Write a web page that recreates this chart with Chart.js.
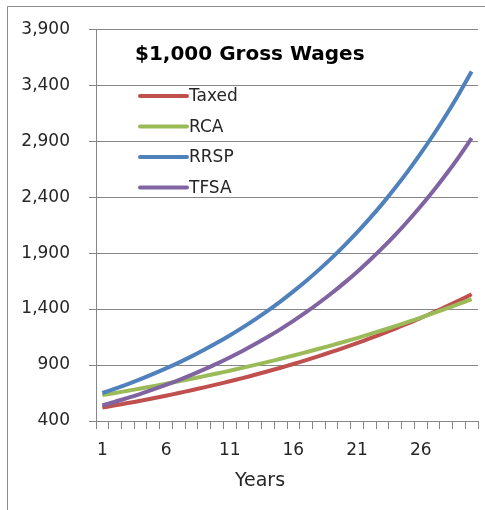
<!DOCTYPE html>
<html>
<head>
<meta charset="utf-8">
<script src="https://cdn.jsdelivr.net/npm/chart.js@4/dist/chart.umd.min.js"></script>
<style>
  body { margin: 0; background: #fff; }
  canvas { display: block; }
</style>
</head>
<body>
<canvas id="chart" width="485" height="510"></canvas>
<script>
const years = [];
for (let i = 1; i <= 30; i++) years.push(String(i));

const taxed = [520, 540, 560, 581, 603, 626, 650, 675, 700, 727, 755, 783, 813, 844, 876,
  909, 944, 980, 1017, 1055, 1095, 1137, 1180, 1225, 1271, 1320, 1370, 1422, 1476, 1532];
const rca = [632, 651, 670, 691, 711, 733, 755, 777, 801, 825, 849, 875, 901, 928, 956,
  985, 1014, 1045, 1076, 1108, 1141, 1176, 1211, 1247, 1285, 1323, 1363, 1404, 1446, 1489];
const rrsp = [650, 689, 730, 774, 821, 870, 922, 977, 1036, 1098, 1164, 1234, 1308, 1386, 1469,
  1558, 1651, 1750, 1855, 1967, 2085, 2210, 2342, 2483, 2632, 2790, 2957, 3134, 3322, 3522];
const tfsa = [540, 572, 607, 643, 682, 723, 766, 812, 861, 912, 967, 1025, 1087, 1152, 1221,
  1294, 1372, 1454, 1541, 1634, 1732, 1836, 1946, 2063, 2187, 2318, 2457, 2604, 2760, 2926];

const seriesNames = ["Taxed", "RCA", "RRSP", "TFSA"];
const seriesColors = ["#C0504D", "#9BBB59", "#4F81BD", "#8064A2"];
const chartTitle = "$1,000 Gross Wages";
const xTitle = "Years";

const FONT = "'DejaVu Sans', sans-serif";
const gridColor = "#868686";
const textColor = "#262626";

const overlay = {
  id: "overlay",
  beforeDraw(chart) {
    const c = chart.ctx;
    c.save();
    c.strokeStyle = "#8c8c8c";
    c.lineWidth = 1;
    c.beginPath();
    c.moveTo(7.5, 510);
    c.lineTo(7.5, 6.5);
    c.lineTo(485, 6.5);
    c.stroke();
    c.restore();
  },
  afterDraw(chart) {
    const c = chart.ctx;
    c.save();
    c.fillStyle = "#000";
    c.textBaseline = "middle";
    c.textAlign = "left";
    c.font = "bold 20px " + FONT;
    c.fillText(chartTitle, 135, 55);

    c.font = "17px " + FONT;
    chart.data.datasets.forEach((ds, i) => {
      const y = 96 + i * 30.5;
      c.strokeStyle = ds.borderColor;
      c.lineWidth = 4;
      c.lineCap = "round";
      c.beginPath();
      c.moveTo(140, y);
      c.lineTo(187, y);
      c.stroke();
      c.fillStyle = textColor;
      c.fillText(ds.label, 189, y + 1);
    });

    c.textAlign = "center";
    c.font = "19px " + FONT;
    c.fillStyle = textColor;
    c.fillText(xTitle, 260, 481);
    c.restore();
  }
};

const allSeries = [taxed, rca, rrsp, tfsa];

new Chart(document.getElementById("chart").getContext("2d"), {
  type: "line",
  data: {
    labels: years,
    datasets: allSeries.map((d, i) => ({
      label: seriesNames[i],
      data: d,
      borderColor: seriesColors[i],
      backgroundColor: seriesColors[i],
      borderWidth: 4,
      pointRadius: 0,
      tension: 0.3,
      order: 3 - i
    }))
  },
  options: {
    responsive: false,
    animation: false,
    layout: { padding: { top: 28, right: 7, bottom: 0, left: 0 } },
    plugins: {
      legend: { display: false },
      title: { display: false },
      tooltip: { enabled: false }
    },
    scales: {
      x: {
        offset: true,
        grid: { offset: true, drawOnChartArea: false, tickLength: 8, color: gridColor },
        border: { color: gridColor },
        ticks: {
          autoSkip: false,
          maxRotation: 0,
          padding: 11,
          color: textColor,
          font: { family: FONT, size: 17 },
          callback: (v, i) => (i % 5 === 0 ? years[i] : "")
        },
        afterFit: s => { s.height = 89; }
      },
      y: {
        min: 400,
        max: 3900,
        grid: { tickLength: 7, color: gridColor },
        border: { color: gridColor },
        ticks: {
          stepSize: 500,
          padding: 19,
          color: textColor,
          font: { family: FONT, size: 17 },
          callback: v => v.toLocaleString("en-US")
        },
        afterFit: s => { s.width = 96; }
      }
    }
  },
  plugins: [overlay]
});
</script>
</body>
</html>
